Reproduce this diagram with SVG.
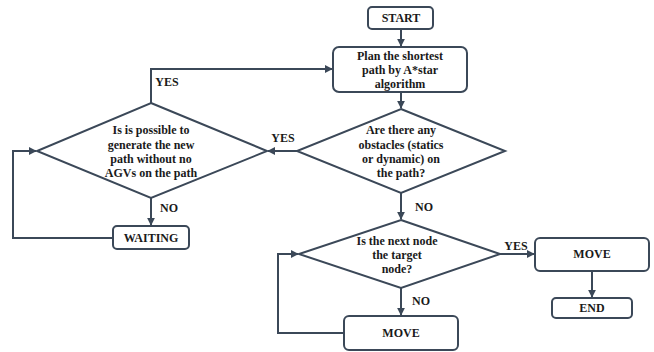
<svg xmlns="http://www.w3.org/2000/svg" width="654" height="352" viewBox="0 0 654 352">
<style>
.b{fill:#fff;stroke:#3b4858;stroke-width:2}
.c{fill:none;stroke:#3b4858;stroke-width:2}
text{font-family:"Liberation Serif","Times New Roman",serif;font-weight:bold;font-size:12px;fill:#1a1a1a;text-anchor:middle}
.l{text-anchor:start}
</style>
<defs>
<marker id="a" viewBox="0 0 10 10" refX="9" refY="5" markerWidth="4" markerHeight="4" orient="auto" markerUnits="strokeWidth">
<path d="M0,0 L10,5 L0,10 z" fill="#3b4858"/>
</marker>
</defs>
<rect width="654" height="352" fill="#fff"/>
<g id="connectors">
<path class="c" d="M401,29 V46" marker-end="url(#a)"/>
<path class="c" d="M401,92 V108" marker-end="url(#a)"/>
<path class="c" d="M297,151 H268" marker-end="url(#a)"/>
<path class="c" d="M151,103 V69 H332" marker-end="url(#a)"/>
<path class="c" d="M151,198 V225" marker-end="url(#a)"/>
<path class="c" d="M113,238 H13 V151 H36" marker-end="url(#a)"/>
<path class="c" d="M401,193 V219" marker-end="url(#a)"/>
<path class="c" d="M500,254 H534" marker-end="url(#a)"/>
<path class="c" d="M592,271 V297" marker-end="url(#a)"/>
<path class="c" d="M401,288 V315" marker-end="url(#a)"/>
<path class="c" d="M344,333 H278 V254 H298" marker-end="url(#a)"/>
<text x="167" y="86">YES</text>
<text x="283" y="142">YES</text>
<text x="169" y="212">NO</text>
<text x="424" y="211">NO</text>
<text x="516" y="250">YES</text>
<text x="421" y="305">NO</text>
</g>
<g id="start"><rect class="b" x="368" y="7" width="65" height="22" rx="4"/><text x="401" y="22">START</text></g>
<g id="plan"><rect class="b" x="333" y="47" width="134" height="45" rx="6"/>
<text x="400" y="60">Plan the shortest</text><text x="400" y="74">path by A*star</text><text x="400" y="88">algorithm</text></g>
<g id="obstacles"><polygon class="b" points="401,109 505,151 401,193 297,151"/>
<text x="401" y="134">Are there any</text><text x="401" y="149">obstacles (statics</text><text x="401" y="163">or dynamic) on</text><text x="401" y="177">the path?</text></g>
<g id="possible"><polygon class="b" points="151,103 267,151 151,198 37,151"/>
<text x="151" y="134">Is is possible to</text><text x="151" y="149">generate the new</text><text x="151" y="163">path without no</text><text x="151" y="177">AGVs on the path</text></g>
<g id="waiting"><rect class="b" x="113" y="226" width="76" height="23" rx="4"/><text x="151" y="242">WAITING</text></g>
<g id="target"><polygon class="b" points="401,220 500,254 401,288 299,254"/>
<text x="397" y="245">Is the next node</text><text x="397" y="259">the target</text><text x="397" y="273">node?</text></g>
<g id="move1"><rect class="b" x="535" y="238" width="114" height="33" rx="5"/><text x="592" y="258">MOVE</text></g>
<g id="end"><rect class="b" x="552" y="298" width="80" height="20" rx="4"/><text x="592" y="312">END</text></g>
<g id="move2"><rect class="b" x="344" y="316" width="114" height="34" rx="5"/><text x="401" y="337">MOVE</text></g>
</svg>
